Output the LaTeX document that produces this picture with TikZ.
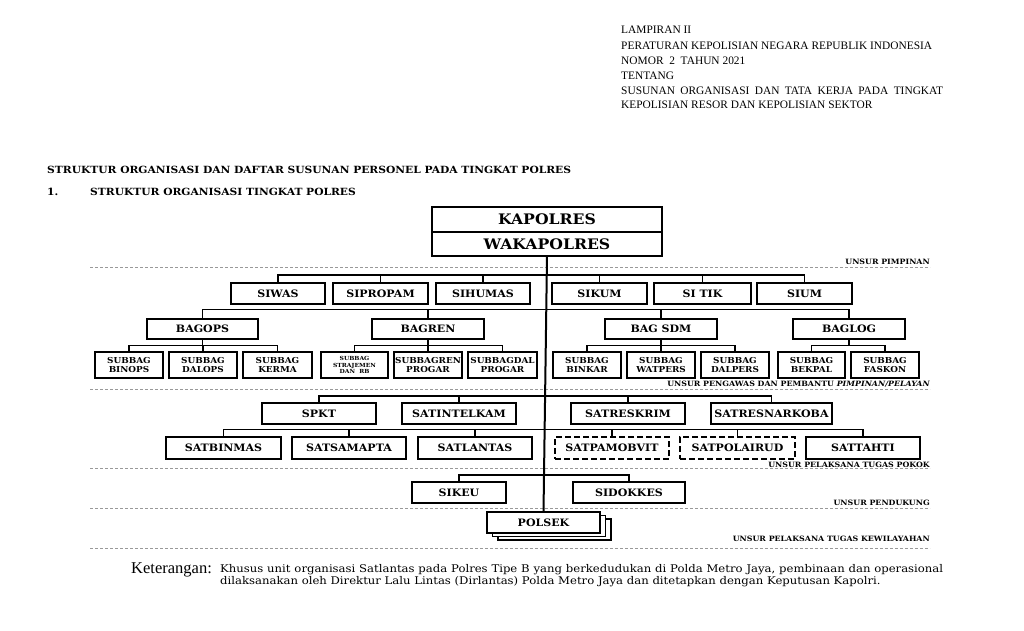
\documentclass[tikz,border=0pt]{standalone}
\usepackage{fontspec}
\setmainfont{DejaVu Serif}
\newfontfamily\bxf[FakeStretch=1.08]{DejaVu Serif}
\newfontfamily\hdf{Liberation Serif}
\newfontfamily\notef[FakeStretch=1.1]{DejaVu Serif}
\newcommand\obox[7][]{\node[orgbox,#1,minimum width={(#4-#3)*1pt},minimum height={(#6-#5)*1pt}] (#2) at ({(#3+#4)/2},{(#5+#6)/2}) {#7};}
\begin{document}
\begin{tikzpicture}[x=1pt,y=-1pt,
  orgbox/.style={draw, line width=1.8pt, fill=white, inner sep=0pt, outer sep=0pt, align=center, font=\bxf\bfseries\fontsize{10.2}{11}\selectfont},
  dbox/.style={dash pattern=on 6pt off 3pt},
  subbox/.style={font=\bxf\bfseries\fontsize{8.2}{9}\selectfont},
  conn/.style={line width=1.6pt},
  mainline/.style={line width=2pt},
  sepline/.style={draw=gray!80, line width=0.9pt, dash pattern=on 3pt off 2pt},
  seplabel/.style={anchor=east, inner sep=0pt, font=\bxf\bfseries\fontsize{7.3}{7.3}\selectfont},
  hdr/.style={anchor=west, inner sep=0pt, font=\hdf\fontsize{11.4}{12}\selectfont},
  ttl/.style={anchor=west, inner sep=0pt, font=\bxf\bfseries\fontsize{9.9}{11}\selectfont}]
\fill[white] (0,0) rectangle (1024,630);
\useasboundingbox (0,0) rectangle (1024,630);

% header
\node[hdr] (h1) at (621,30) {LAMPIRAN II};
\node[hdr] (h2) at (621,45.7) {PERATURAN KEPOLISIAN NEGARA REPUBLIK INDONESIA};
\node[hdr] (h3) at (621,61) {NOMOR\ \ 2\ \ TAHUN 2021};
\node[hdr] (h4) at (621,76) {TENTANG};
\node[hdr] (h5) at (621,90.7) {\makebox[322pt][s]{SUSUNAN ORGANISASI DAN TATA KERJA PADA TINGKAT}};
\node[hdr] (h6) at (621,105) {KEPOLISIAN RESOR DAN KEPOLISIAN SEKTOR};

% titles
\node[ttl] (t1) at (47,170) {STRUKTUR ORGANISASI DAN DAFTAR SUSUNAN PERSONEL PADA TINGKAT POLRES};
\node[ttl] (t2n) at (47,192) {1.};
\node[ttl] (t2) at (90,192) {STRUKTUR ORGANISASI TINGKAT POLRES};

% separators
\draw[sepline] (90,267.5) -- (930,267.5);
\draw[sepline] (90,389.3) -- (930,389.3);
\draw[sepline] (90,468.7) -- (930,468.7);
\draw[sepline] (90,508.3) -- (930,508.3);
\draw[sepline] (90,548.3) -- (930,548.3);
\node[seplabel] (l1) at (930,262) {UNSUR PIMPINAN};
\node[seplabel] (l2) at (930,384.5) {UNSUR PENGAWAS DAN PEMBANTU \itshape PIMPINAN/PELAYAN};
\node[seplabel] (l3) at (930,465) {UNSUR PELAKSANA TUGAS POKOK};
\node[seplabel] (l4) at (930,503.3) {UNSUR PENDUKUNG};
\node[seplabel] (l5) at (930,539.3) {UNSUR PELAKSANA TUGAS KEWILAYAHAN};

% bar coordinates
\coordinate (y1) at (0,275);
\coordinate (y2) at (0,309.5);
\coordinate (y3) at (0,345.5);
\coordinate (y4) at (0,395.7);
\coordinate (y5) at (0,429.3);
\coordinate (y6) at (0,475);

% polsek shadows
\draw[line width=1.6pt, fill=white] (498,519) rectangle (611,540);
\draw[line width=1.6pt, fill=white] (492.5,515.5) rectangle (605.5,536.5);

% top
\obox[font=\bxf\bfseries\fontsize{14.5}{15}\selectfont]{kap}{432}{662}{207}{232}{KAPOLRES}
\obox[font=\bxf\bfseries\fontsize{14.5}{15}\selectfont]{wakap}{432}{662}{232}{256}{WAKAPOLRES}
\obox{polsek}{487}{600}{512}{533}{POLSEK}
\draw[mainline] (wakap.south) -- (polsek.north);

% level 1
\obox{siwas}{231}{325}{283}{304}{SIWAS}
\obox{sipropam}{333}{428}{283}{304}{SIPROPAM}
\obox{sihumas}{436}{530}{283}{304}{SIHUMAS}
\obox{sikum}{552}{647}{283}{304}{SIKUM}
\obox{sitik}{654}{751}{283}{304}{SI TIK}
\obox{sium}{757}{852}{283}{304}{SIUM}
\draw[conn] (siwas.north) -- (siwas.north |- y1) -- (sium.north |- y1) -- (sium.north);
\foreach \n in {sipropam,sihumas,sikum,sitik} \draw[conn] (\n.north) -- (\n.north |- y1);

% level 2
\obox{bagops}{147}{258}{319}{339}{BAGOPS}
\obox{bagren}{372}{484}{319}{339}{BAGREN}
\obox{bagsdm}{605}{717}{319}{339}{BAG SDM}
\obox{baglog}{793}{905}{319}{339}{BAGLOG}
\draw[conn] (bagops.north) -- (bagops.north |- y2) -- (baglog.north |- y2) -- (baglog.north);
\foreach \n in {bagren,bagsdm} \draw[conn] (\n.north) -- (\n.north |- y2);

% level 3
\obox[subbox]{sb1}{95}{163}{352}{378}{SUBBAG\\BINOPS}
\obox[subbox]{sb2}{169}{237}{352}{378}{SUBBAG\\DALOPS}
\obox[subbox]{sb3}{243}{312}{352}{378}{SUBBAG\\KERMA}
\obox[font=\bxf\bfseries\fontsize{5.6}{6.5}\selectfont]{sb4}{321}{388}{352}{378}{SUBBAG\\STRAJEMEN\\DAN\ \ RB}
\obox[subbox]{sb5}{394}{462}{352}{378}{SUBBAGREN\\PROGAR}
\obox[subbox]{sb6}{468}{537}{352}{378}{SUBBAGDAL\\PROGAR}
\obox[subbox]{sb7}{553}{621}{352}{378}{SUBBAG\\BINKAR}
\obox[subbox]{sb8}{627}{695}{352}{378}{SUBBAG\\WATPERS}
\obox[subbox]{sb9}{701}{769}{352}{378}{SUBBAG\\DALPERS}
\obox[subbox]{sb10}{778}{845}{352}{378}{SUBBAG\\BEKPAL}
\obox[subbox]{sb11}{851}{919}{352}{378}{SUBBAG\\FASKON}
\draw[conn] (bagops.south) -- (bagops.south |- y3);
\draw[conn] (sb1.north) -- (sb1.north |- y3) -- (sb3.north |- y3) -- (sb3.north);
\draw[conn] (sb2.north) -- (sb2.north |- y3);
\draw[conn] (bagren.south) -- (bagren.south |- y3);
\draw[conn] (sb4.north) -- (sb4.north |- y3) -- (sb6.north |- y3) -- (sb6.north);
\draw[conn] (sb5.north) -- (sb5.north |- y3);
\draw[conn] (bagsdm.south) -- (bagsdm.south |- y3);
\draw[conn] (sb7.north) -- (sb7.north |- y3) -- (sb9.north |- y3) -- (sb9.north);
\draw[conn] (sb8.north) -- (sb8.north |- y3);
\draw[conn] (baglog.south) -- (baglog.south |- y3);
\draw[conn] (sb10.north) -- (sb10.north |- y3) -- (sb11.north |- y3) -- (sb11.north);

% level 4
\obox{spkt}{262}{376}{403}{424}{SPKT}
\obox{satintelkam}{402}{516}{403}{424}{SATINTELKAM}
\obox{satreskrim}{571}{685}{403}{424}{SATRESKRIM}
\obox{satresnarkoba}{711}{832}{403}{424}{SATRESNARKOBA}
\draw[conn] (spkt.north) -- (spkt.north |- y4) -- (satresnarkoba.north |- y4) -- (satresnarkoba.north);
\foreach \n in {satintelkam,satreskrim} \draw[conn] (\n.north) -- (\n.north |- y4);

% level 5
\obox{satbinmas}{166}{281}{437}{459}{SATBINMAS}
\obox{satsamapta}{292}{406}{437}{459}{SATSAMAPTA}
\obox{satlantas}{418}{532}{437}{459}{SATLANTAS}
\obox[dbox]{satpamobvit}{555}{669}{437}{459}{SATPAMOBVIT}
\obox[dbox]{satpolairud}{680}{795}{437}{459}{SATPOLAIRUD}
\obox{sattahti}{806}{920}{437}{459}{SATTAHTI}
\draw[conn] (satbinmas.north) -- (satbinmas.north |- y5) -- (sattahti.north |- y5) -- (sattahti.north);
\foreach \n in {satsamapta,satlantas,satpamobvit,satpolairud} \draw[conn] (\n.north) -- (\n.north |- y5);

% level 6
\obox{sikeu}{412}{506}{482}{503}{SIKEU}
\obox{sidokkes}{573}{685}{482}{503}{SIDOKKES}
\draw[conn] (sikeu.north) -- (sikeu.north |- y6) -- (sidokkes.north |- y6) -- (sidokkes.north);

% note
\node[anchor=base west, inner sep=0pt, font=\hdf\fontsize{16.5}{17}\selectfont] (ket) at (131,573.3) {Keterangan:};
\node[anchor=base west, inner sep=0pt, font=\notef\fontsize{10.6}{12}\selectfont] (n1) at (220,572.3) {\makebox[723pt][s]{Khusus unit organisasi Satlantas pada Polres Tipe B yang berkedudukan di Polda Metro Jaya, pembinaan dan operasional}};
\node[anchor=base west, inner sep=0pt, font=\notef\fontsize{10.6}{12}\selectfont] (n2) at (220,584.3) {dilaksanakan oleh Direktur Lalu Lintas (Dirlantas) Polda Metro Jaya dan ditetapkan dengan Keputusan Kapolri.};
\end{tikzpicture}
\end{document}
